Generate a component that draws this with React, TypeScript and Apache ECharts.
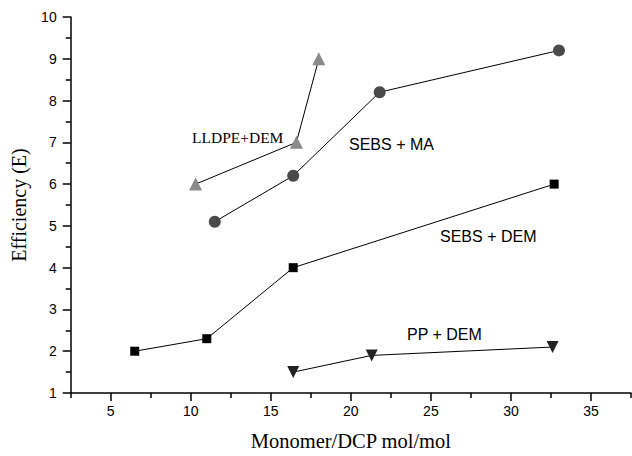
import React, { useEffect, useRef } from "react";
import * as echarts from "echarts";

const sebsDem: [number, number][] = [[6.5, 2.0], [11.0, 2.3], [16.4, 4.0], [32.7, 6.0]];
const ppDem: [number, number][] = [[16.4, 1.5], [21.3, 1.9], [32.6, 2.1]];
const sebsMa: [number, number][] = [[11.5, 5.1], [16.4, 6.2], [21.8, 8.2], [33.0, 9.2]];
const lldpeDem: [number, number][] = [[10.3, 6.0], [16.6, 7.0], [18.0, 9.0]];

const xMajorTicks = [5, 10, 15, 20, 25, 30, 35];
const xMinorTicks = [2.5, 7.5, 12.5, 17.5, 22.5, 27.5, 32.5, 37.5];

const labels = [
  { text: "LLDPE+DEM", x: 192, y: 137, serif: true },
  { text: "SEBS + MA", x: 349, y: 144, serif: false },
  { text: "SEBS + DEM", x: 440, y: 236, serif: false },
  { text: "PP + DEM", x: 407, y: 334, serif: false },
];

const SANS = '"Liberation Sans", Arial, sans-serif';
const SERIF = '"Liberation Serif", "Times New Roman", serif';

export default function App() {
  const ref = useRef<HTMLDivElement>(null);
  useEffect(() => {
    if (!ref.current) return;
    const chart = echarts.init(ref.current, null, { renderer: "svg" });
    const lineStyle = { color: "#000", width: 1 };
    const mk = (name: string, data: [number, number][], symbol: string, size: number, color: string, rotate = 0) => ({
      name,
      type: "line",
      data,
      symbol,
      symbolSize: size,
      symbolRotate: rotate,
      itemStyle: { color, borderWidth: 0 },
      lineStyle,
      z: 3,
    });
    chart.setOption({
      animation: false,
      backgroundColor: "#fff",
      grid: { left: 70.7, right: 1, top: 17, bottom: 59 },
      xAxis: [
        {
          type: "value",
          min: 2.5,
          max: 37.5,
          position: "bottom",
          name: "Monomer/DCP mol/mol",
          nameLocation: "middle",
          nameGap: 37,
          nameTextStyle: { fontFamily: SERIF, fontSize: 20.5, color: "#000" },
          axisLine: { show: true, lineStyle: { color: "#000", width: 1.5 } },
          axisTick: { show: true, customValues: xMajorTicks, length: 8, inside: false, lineStyle: { color: "#000", width: 1.5 } },
          axisLabel: { customValues: xMajorTicks, fontFamily: SANS, fontSize: 14, color: "#000", margin: 11 },
          splitLine: { show: false },
        },
        {
          type: "value",
          min: 2.5,
          max: 37.5,
          position: "bottom",
          offset: 0,
          axisLine: { show: false },
          axisTick: { show: true, customValues: xMinorTicks, length: 5, lineStyle: { color: "#000", width: 1.5 } },
          axisLabel: { show: false },
          splitLine: { show: false },
        },
      ],
      yAxis: {
        type: "value",
        min: 1,
        max: 10,
        interval: 1,
        name: "Efficiency (E)",
        nameLocation: "middle",
        nameGap: 42,
        nameTextStyle: { fontFamily: SERIF, fontSize: 20, color: "#000" },
        axisLine: { show: true, lineStyle: { color: "#000", width: 1.5 } },
        axisTick: { show: true, length: 8, lineStyle: { color: "#000", width: 1.5 } },
        minorTick: { show: true, splitNumber: 2, length: 5, lineStyle: { color: "#000", width: 1.5 } },
        axisLabel: { fontFamily: SANS, fontSize: 14, color: "#000", margin: 14 },
        splitLine: { show: false },
      },
      series: [
        mk("SEBS + DEM", sebsDem, "rect", 9, "#000"),
        mk("PP + DEM", ppDem, "triangle", 12, "#222", 180),
        mk("SEBS + MA", sebsMa, "circle", 12, "#4a4a4a"),
        mk("LLDPE+DEM", lldpeDem, "triangle", 13, "#8a8a8a"),
      ],
      graphic: labels.map((l) => ({
        type: "text",
        x: l.x,
        y: l.y,
        style: {
          text: l.text,
          fill: "#000",
          font: l.serif ? `15.5px ${SERIF}` : `16px ${SANS}`,
          verticalAlign: "middle",
          align: "left",
        },
      })),
    });
    return () => chart.dispose();
  }, []);
  return <div ref={ref} style={{ position: "fixed", left: 0, top: 0, width: 632, height: 456 }} />;
}
